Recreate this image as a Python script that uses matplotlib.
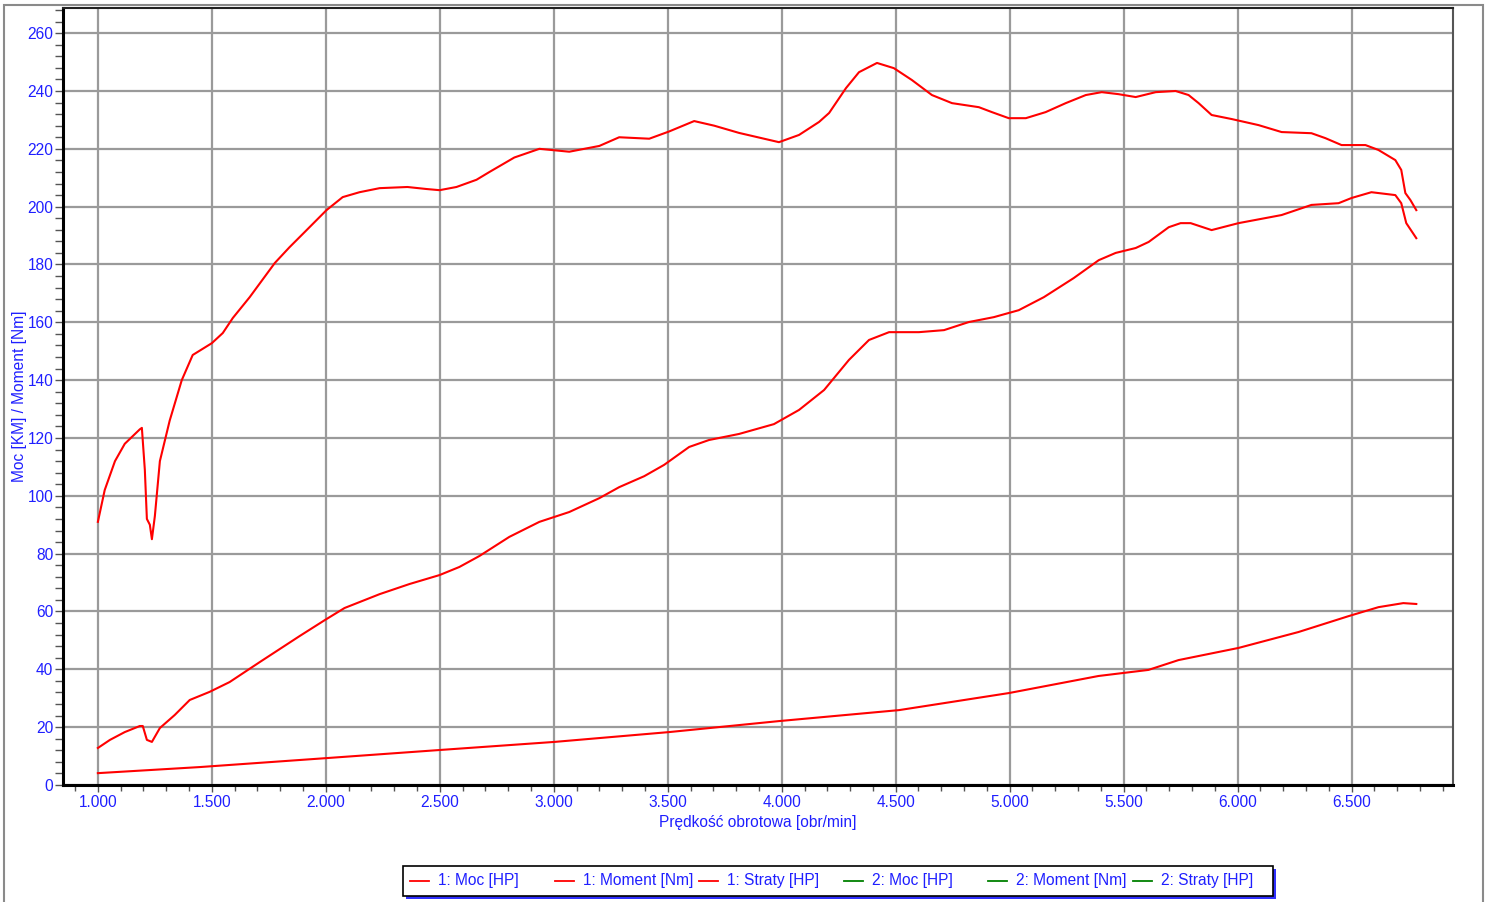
import matplotlib
matplotlib.use("Agg")
import matplotlib.pyplot as plt
from matplotlib.ticker import MultipleLocator, FuncFormatter
from matplotlib.lines import Line2D
from matplotlib.patches import Rectangle

plt.rcParams['font.family'] = ['Liberation Sans', 'DejaVu Sans']

# --- data (rpm, value) ---
moment_rpm = [1000, 1030, 1075, 1118, 1184, 1193, 1206, 1215, 1228, 1237, 1250, 1272, 1315, 1368,
              1416, 1500, 1548, 1592, 1666, 1776, 1841, 1907, 2003, 2074, 2148, 2236, 2358, 2442,
              2499, 2573, 2661, 2718, 2827, 2937, 3068, 3200, 3287, 3419, 3506, 3616, 3704, 3813,
              3988, 4076, 4164, 4208, 4282, 4339, 4418, 4492, 4571, 4659, 4747, 4865, 4922, 4996,
              5071, 5158, 5246, 5334, 5404, 5478, 5553, 5641, 5728, 5785, 5829, 5886, 5974, 6092,
              6193, 6324, 6385, 6456, 6561, 6618, 6692, 6718, 6736, 6758, 6784]
moment_val = [91, 102, 112, 118, 123, 123.5, 109, 92, 90, 85, 93, 112, 126, 140.0,
              148.7, 152.8, 156.3, 161.5, 168.7, 180.5, 186.0, 191.2, 198.8, 203.3, 205.0, 206.4, 206.8, 206.1,
              205.7, 206.8, 209.3, 212, 217, 220, 219, 221, 224, 223.5, 226, 229.6, 228, 225.5,
              222.3, 224.8, 229.3, 232.4, 241.0, 246.5, 249.7, 247.9, 243.8, 238.6, 235.8, 234.4, 232.7, 230.6,
              230.6, 232.7, 235.8, 238.6, 239.6, 238.9, 237.9, 239.6, 240.0, 238.6, 235.8, 231.7, 230.3, 228.2,
              225.8, 225.4, 223.7, 221.3, 221.3, 219.6, 216.1, 212.7, 204.7, 202.3, 198.8]

moc_rpm = [1000, 1053, 1118, 1184, 1197, 1215, 1237, 1272, 1337, 1403, 1490, 1578, 1710, 1885,
           1995, 2082, 2236, 2367, 2499, 2586, 2674, 2805, 2937, 3068, 3200, 3287, 3397, 3484,
           3594, 3681, 3813, 3966, 4076, 4186, 4295, 4383, 4471, 4602, 4712, 4821, 4931, 5040,
           5150, 5281, 5391, 5465, 5553, 5610, 5698, 5750, 5794, 5886, 6004, 6193, 6324, 6443,
           6500, 6587, 6692, 6718, 6740, 6784]
moc_val = [12.8, 15.6, 18.3, 20.4, 20.4, 15.6, 14.9, 19.7, 24.2, 29.4, 32.2, 35.6, 42.5, 51.5,
           57, 61.2, 66, 69.5, 72.6, 75.4, 79.2, 85.8, 91, 94.4, 99.2, 103, 106.8, 110.7,
           116.9, 119.3, 121.4, 124.8, 129.7, 136.6, 147, 153.9, 156.6, 156.6, 157.3, 160.1, 161.8, 164.2,
           168.7, 175.3, 181.5, 184.0, 185.7, 187.8, 192.9, 194.3, 194.3, 191.9, 194.3, 197.1, 200.6, 201.2,
           203.0, 205.0, 204.0, 201.2, 194.3, 189.1]

straty_rpm = [1000, 1447, 2003, 2499, 3003, 3506, 3988, 4515, 4997, 5390, 5609, 5741, 6004, 6267,
              6487, 6618, 6727, 6784]
straty_val = [4.1, 6.2, 9.3, 12.1, 14.9, 18.3, 22.1, 25.9, 31.8, 37.7, 39.8, 43.2, 47.4, 52.9,
              58.4, 61.5, 62.9, 62.6]

legend_labels = ["1: Moc [HP]", "1: Moment [Nm]", "1: Straty [HP]",
                 "2: Moc [HP]", "2: Moment [Nm]", "2: Straty [HP]"]
legend_colors = ["red", "red", "red", "green", "green", "green"]

BLUE = '#1f1fff'
FS = 11.2
W, H = 1488, 902
fig = plt.figure(figsize=(W / 100, H / 100), dpi=100)
ax = fig.add_axes([63 / W, 1 - 785 / H, (1453 - 63) / W, (785 - 8) / H])

ax.plot(moment_rpm, moment_val, color='red', lw=1.5)
ax.plot(moc_rpm, moc_val, color='red', lw=1.5)
ax.plot(straty_rpm, straty_val, color='red', lw=1.5)

ax.set_xlim(847, 6945)
ax.set_ylim(0, 268.7)
ax.xaxis.set_major_locator(MultipleLocator(500))
ax.xaxis.set_minor_locator(MultipleLocator(100))
ax.yaxis.set_major_locator(MultipleLocator(20))
ax.yaxis.set_minor_locator(MultipleLocator(4))
ax.xaxis.set_major_formatter(FuncFormatter(lambda v, p: f"{v/1000:.3f}"))
ax.yaxis.set_major_formatter(FuncFormatter(lambda v, p: f"{int(round(v))}"))

ax.grid(True, which='major', color='#9a9a9a', lw=1.6)
ax.set_axisbelow(True)
ax.tick_params(axis='both', which='both', colors='#555555', labelcolor=BLUE, labelsize=FS)
ax.tick_params(axis='y', which='both', length=6, width=1, pad=1)
ax.tick_params(axis='x', which='major', length=5, width=1, pad=2.5)
ax.tick_params(axis='x', which='minor', length=4, width=1)

for s in ['left', 'bottom']:
    ax.spines[s].set_color('black')
    ax.spines[s].set_linewidth(2.2)
ax.spines['top'].set_color('#222222')
ax.spines['top'].set_linewidth(1.5)
ax.spines['right'].set_color('#555555')
ax.spines['right'].set_linewidth(1.5)

ax.set_xlabel("Prędkość obrotowa [obr/min]", color=BLUE, fontsize=FS, labelpad=3)
ax.set_ylabel("Moc [KM] / Moment [Nm]", color=BLUE, fontsize=FS, labelpad=0.5)

# outer frame
fig.patches.append(Rectangle((4 / W, -0.01), (1483 - 4) / W, 1 - 5 / H + 0.01,
                             transform=fig.transFigure, fill=False,
                             edgecolor='#8a8a8a', lw=1.5))

# legend box (drawn manually: fixed-width columns)
lx0, lx1, ly0, ly1 = 403, 1273, 866, 896
fig.patches.append(Rectangle(((lx0 + 3) / W, 1 - (ly1 + 3) / H), (lx1 - lx0) / W, (ly1 - ly0) / H,
                             transform=fig.transFigure, facecolor='#3030ff', edgecolor='none',
                             zorder=5))
fig.patches.append(Rectangle((lx0 / W, 1 - ly1 / H), (lx1 - lx0) / W, (ly1 - ly0) / H,
                             transform=fig.transFigure, facecolor='white', edgecolor='black',
                             lw=1.2, zorder=6))
col_w = 144.6
yl = 1 - 881 / H
for i, (lab, col) in enumerate(zip(legend_labels, legend_colors)):
    x0 = 410 + i * col_w
    fig.add_artist(Line2D([x0 / W, (x0 + 19) / W], [yl, yl], color=col, lw=1.3,
                          transform=fig.transFigure, zorder=7))
    fig.text((x0 + 28) / W, yl, lab, color=BLUE, fontsize=FS, va='center', ha='left',
             zorder=7)

fig.savefig("out.png", dpi=100)
